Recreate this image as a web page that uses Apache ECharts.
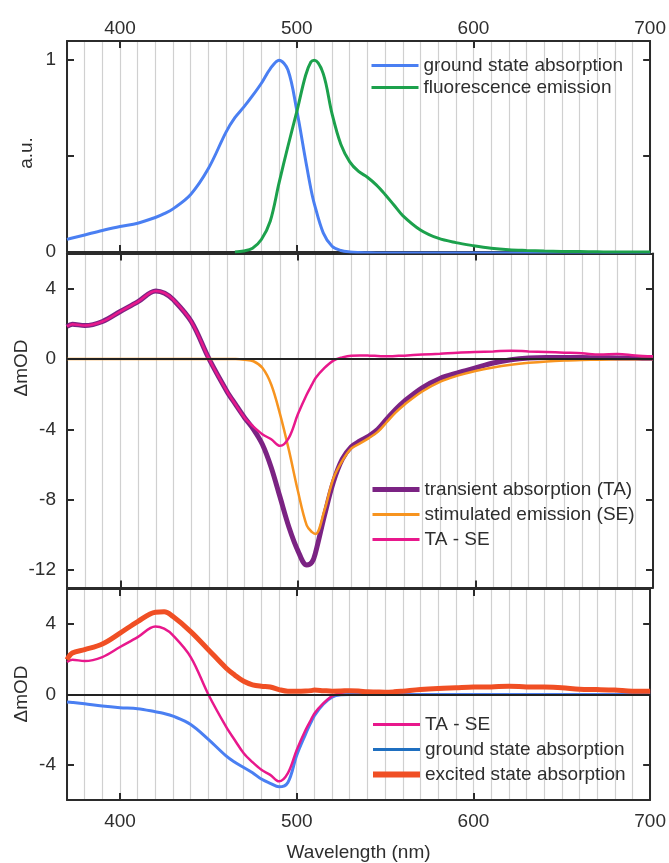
<!DOCTYPE html>
<html>
<head>
<meta charset="utf-8">
<script src="https://cdn.jsdelivr.net/npm/echarts@6/dist/echarts.min.js"></script>
<style>
html, body { margin: 0; padding: 0; background: #fff; }
#chart { width: 669px; height: 863px; }
</style>
</head>
<body>
<div id="chart"></div>
<script>
// wavelength grid (nm), shared by every series
var wl = [370, 373, 380, 390, 400, 410, 420, 425, 430, 440, 450, 460, 465, 470, 475, 480, 485, 490, 495, 500,
  505, 508, 510, 515, 520, 525, 530, 535, 540, 545, 550, 555, 560, 570, 580, 590, 600, 610, 620, 630,
  640, 650, 660, 670, 680, 690, 700];

// panel 1 (a.u.)
var gsaNorm = [0.066, 0.073, 0.089, 0.112, 0.133, 0.15, 0.18, 0.2, 0.225, 0.3, 0.435, 0.625, 0.7, 0.755, 0.815, 0.88, 0.955, 1.0, 0.95, 0.74,
  0.48, 0.33, 0.25, 0.1, 0.03, 0.008, 0, -0.003, -0.004, -0.005, -0.005, -0.005, -0.005, -0.005, -0.005, -0.005, -0.005, -0.005, -0.005, -0.005,
  -0.005, -0.004, -0.004, -0.004, -0.003, -0.003, -0.003];
var fluo = [null, null, null, null, null, null, null, null, null, null, null, null, 0, 0.005, 0.02, 0.065, 0.16, 0.36, 0.55, 0.73,
  0.92, 0.99, 1.0, 0.93, 0.72, 0.56, 0.47, 0.42, 0.39, 0.35, 0.3, 0.245, 0.19, 0.115, 0.072, 0.049, 0.033, 0.02, 0.012, 0.008,
  0.005, 0.003, 0.002, 0.001, 0, 0, 0];

// panel 2 (mOD)
var ta = [1.85, 1.98, 1.9, 2.13, 2.7, 3.26, 3.87, 3.74, 3.36, 2.13, 0.0, -1.83, -2.6, -3.34, -4.0, -4.85, -6.17, -7.87, -9.57, -10.9,
  -11.72, -11.55, -11.0, -8.9, -7.0, -5.7, -5.0, -4.66, -4.38, -4.0, -3.43, -2.87, -2.4, -1.64, -1.11, -0.79, -0.51, -0.23, -0.04, 0.06,
  0.09, 0.09, 0.08, 0.07, 0.06, 0.05, 0.04];
var se = [0, 0, 0, 0, 0, 0, 0, 0, 0, 0, 0, 0, 0, -0.04, -0.13, -0.5, -1.45, -3.15, -5.2, -7.5,
  -9.47, -9.85, -9.95, -8.6, -6.8, -5.8, -5.1, -4.8, -4.5, -4.15, -3.6, -3.05, -2.6, -1.85, -1.3, -0.95, -0.68, -0.48, -0.33, -0.22,
  -0.14, -0.09, -0.06, -0.04, -0.02, -0.01, 0];
var taMinusSe = [1.85, 1.98, 1.9, 2.13, 2.7, 3.26, 3.87, 3.74, 3.36, 2.13, 0.0, -1.83, -2.6, -3.34, -3.85, -4.28, -4.57, -4.94, -4.47, -3.15,
  -2.02, -1.45, -1.08, -0.51, -0.09, 0.09, 0.19, 0.2, 0.19, 0.17, 0.15, 0.17, 0.19, 0.25, 0.3, 0.36, 0.4, 0.43, 0.47, 0.43,
  0.4, 0.36, 0.32, 0.25, 0.28, 0.2, 0.15];

// panel 3 (mOD)
var gsa = [-0.42, -0.45, -0.53, -0.66, -0.75, -0.81, -0.98, -1.08, -1.23, -1.7, -2.55, -3.49, -3.85, -4.15, -4.45, -4.81, -5.05, -5.25, -5.0, -3.45,
  -2.25, -1.6, -1.2, -0.55, -0.15, -0.02, 0, 0, 0, 0, 0, 0, 0, 0, 0, 0, 0, 0, 0, 0,
  0, 0, 0, 0, 0, 0, 0];
var esa = [1.98, 2.36, 2.55, 2.87, 3.49, 4.15, 4.68, 4.7, 4.43, 3.58, 2.55, 1.51, 1.1, 0.75, 0.55, 0.47, 0.43, 0.28, 0.19, 0.19,
  0.2, 0.22, 0.25, 0.22, 0.19, 0.2, 0.22, 0.2, 0.15, 0.14, 0.13, 0.15, 0.19, 0.28, 0.34, 0.38, 0.42, 0.43, 0.47, 0.43,
  0.42, 0.38, 0.3, 0.28, 0.25, 0.19, 0.19];

var xLabels = [400, 500, 600, 700];

var FONT = '"Liberation Sans", Arial, sans-serif';
var TXT = '#2e2e2e';
var AX = '#2b2b2b';

function pts(arr) {
  return wl.map(function (x, i) { return [x, arr[i]]; });
}

// frame axis: border line, inward ticks at 400/500/600, optional labels
function xAx(grid, pos, labels) {
  return {
    type: 'value', gridIndex: grid, position: pos, min: 370, max: 700, interval: 10,
    axisLine: { show: true, onZero: false, lineStyle: { color: AX, width: 2 } },
    axisTick: { show: true, inside: true, length: 7, customValues: xLabels, lineStyle: { color: AX, width: 2 } },
    axisLabel: { show: labels, customValues: xLabels, margin: pos === 'top' ? 3 : 12, fontSize: 19, fontFamily: FONT, color: TXT },
    splitLine: { show: false }
  };
}

// hidden axis that only draws the 10 nm grid lines
function xGridAx(grid) {
  return {
    type: 'value', gridIndex: grid, position: 'bottom', min: 370, max: 700, interval: 10,
    axisLine: { show: false, onZero: false }, axisTick: { show: false }, axisLabel: { show: false },
    splitLine: { show: true, lineStyle: { color: '#d0d0d0', width: 1.2 } }
  };
}

function yAx(grid, pos, min, max, ticks, labels) {
  return {
    type: 'value', gridIndex: grid, position: pos, min: min, max: max,
    axisLine: { show: true, lineStyle: { color: AX, width: 2 } },
    axisTick: { show: true, inside: true, length: 7, customValues: ticks, lineStyle: { color: AX, width: 2 } },
    axisLabel: { show: labels != null, customValues: labels || ticks, margin: 11, fontSize: 19, fontFamily: FONT, color: TXT },
    splitLine: { show: false }
  };
}

function line(name, xi, yi, arr, color, width) {
  return {
    name: name, type: 'line', xAxisIndex: xi, yAxisIndex: yi, data: pts(arr),
    symbol: 'none', smooth: 0.35, connectNulls: false,
    lineStyle: { color: color, width: width }, itemStyle: { color: color },
    silent: true, animation: false, z: 3
  };
}

var zeroLine = {
  silent: true, symbol: ['none', 'none'], label: { show: false },
  lineStyle: { color: '#222', width: 2, type: 'solid' },
  data: [{ yAxis: 0 }]
};

var xAxisName = xAx(2, 'bottom', true);
xAxisName.name = 'Wavelength (nm)';
xAxisName.nameLocation = 'middle';
xAxisName.nameGap = 43;
xAxisName.nameTextStyle = { fontSize: 19, fontFamily: FONT, color: TXT };

var legendText = { fontSize: 19, fontFamily: FONT, color: TXT };

// series axis indices: x 0/3/6 are the bottom frame axes, y 0/2/4 the left ones
var s = [];
s.push(line('ground state absorption', 0, 0, gsaNorm, '#4a7ff2', 3));
s.push(line('fluorescence emission', 0, 0, fluo, '#1ca14c', 3));
var sTA = line('transient absorption (TA)', 3, 2, ta, '#7b2383', 5);
sTA.markLine = zeroLine;
s.push(sTA);
s.push(line('stimulated emission (SE)', 3, 2, se, '#f7941f', 2.5));
s.push(line('TA - SE', 3, 2, taMinusSe, '#e8188c', 2.5));
var sG = line('ground state absorption', 6, 4, gsa, '#4a7ff2', 3);
sG.markLine = zeroLine;
s.push(sG);
s.push(line('TA - SE', 6, 4, taMinusSe, '#e8188c', 2.5));
s.push(line('excited state absorption', 6, 4, esa, '#f04f24', 5));

function legend(top, gap, data) {
  return {
    left: 370, top: top, padding: 0, orient: 'vertical', itemWidth: 47, itemHeight: 14, itemGap: gap,
    textStyle: legendText, selectedMode: false, itemStyle: { opacity: 0, borderWidth: 0 },
    data: data
  };
}

var option = {
  backgroundColor: '#fff',
  animation: false,
  grid: [
    { left: 67, right: 16, top: 41, height: 211 },
    { left: 67, right: 16, top: 253.5, height: 334 },
    { left: 67, right: 16, top: 589, height: 211 }
  ],
  xAxis: [
    xAx(0, 'bottom', false), xAx(0, 'top', true), xGridAx(0),
    xAx(1, 'bottom', false), xAx(1, 'top', false), xGridAx(1),
    xAxisName, xAx(2, 'top', false), xGridAx(2)
  ],
  yAxis: [
    yAx(0, 'left', 0, 1.1, [0, 0.5, 1], [0, 1]), yAx(0, 'right', 0, 1.1, [0, 0.5, 1], null),
    yAx(1, 'left', -13, 6, [-12, -8, -4, 0, 4], [-12, -8, -4, 0, 4]), yAx(1, 'right', -13, 6, [-12, -8, -4, 0, 4], null),
    yAx(2, 'left', -6, 6, [-4, 0, 4], [-4, 0, 4]), yAx(2, 'right', -6, 6, [-4, 0, 4], null)
  ],
  legend: [
    legend(56, 3, [
      { name: 'ground state absorption', lineStyle: { width: 3 } },
      { name: 'fluorescence emission', lineStyle: { width: 3 } }
    ]),
    legend(480, 6, [
      { name: 'transient absorption (TA)', lineStyle: { width: 5 } },
      { name: 'stimulated emission (SE)', lineStyle: { width: 3 } },
      { name: 'TA - SE', lineStyle: { width: 3 } }
    ]),
    legend(715, 6, [
      { name: 'TA - SE', lineStyle: { width: 3 } },
      { name: 'ground state absorption', lineStyle: { color: '#1f6fc0', width: 3 } },
      { name: 'excited state absorption', lineStyle: { width: 6 } }
    ])
  ],
  graphic: [
    { type: 'text', x: 27, y: 153, rotation: Math.PI / 2, style: { text: 'a.u.', font: '19px ' + FONT, fill: TXT, align: 'center', verticalAlign: 'middle' } },
    { type: 'text', x: 22, y: 368, rotation: Math.PI / 2, style: { text: 'ΔmOD', font: '19px ' + FONT, fill: TXT, align: 'center', verticalAlign: 'middle' } },
    { type: 'text', x: 22, y: 694, rotation: Math.PI / 2, style: { text: 'ΔmOD', font: '19px ' + FONT, fill: TXT, align: 'center', verticalAlign: 'middle' } }
  ],
  series: s
};

var chart = echarts.init(document.getElementById('chart'));
chart.setOption(option);
</script>
</body>
</html>
